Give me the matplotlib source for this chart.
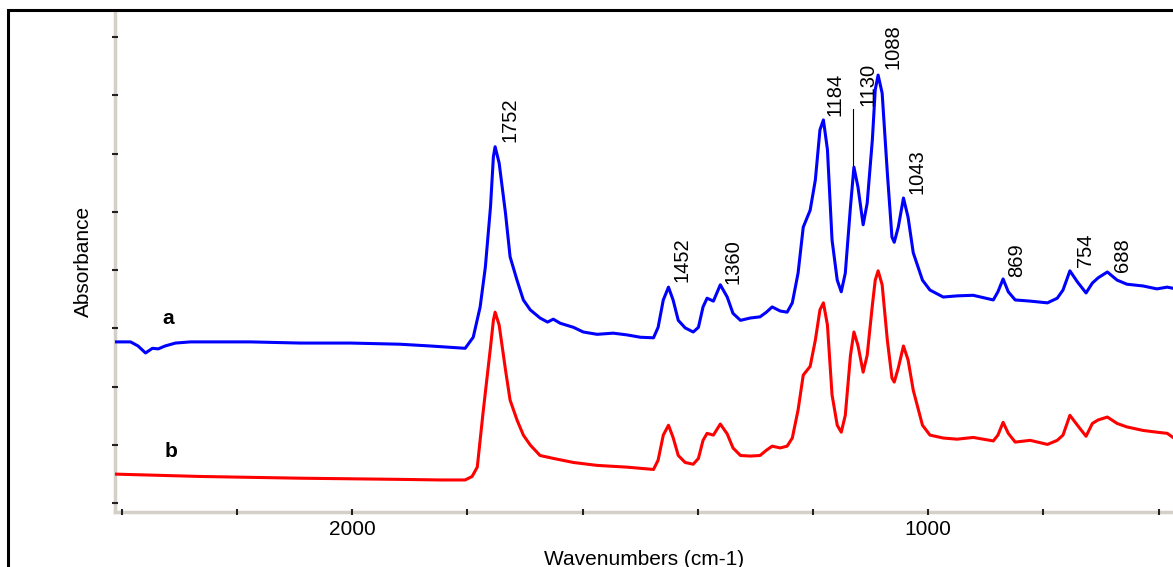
import matplotlib.pyplot as plt
from matplotlib.patches import Rectangle
from matplotlib.ticker import MultipleLocator, FixedLocator

plt.rcParams['font.family'] = ['Liberation Sans', 'DejaVu Sans']

# spectrum a (blue)
wn_a = [2411, 2385, 2372, 2359, 2347, 2337, 2325, 2307, 2281, 2177, 2090, 2003,
        1917, 1865, 1804, 1790, 1778, 1769, 1760, 1755, 1752, 1745, 1734, 1726,
        1714, 1703, 1691, 1674, 1661, 1651, 1639, 1616, 1599, 1575, 1547, 1523,
        1500, 1477, 1469, 1460, 1451, 1443, 1434, 1422, 1408, 1399, 1391, 1384,
        1373, 1361, 1349, 1339, 1326, 1309, 1292, 1281, 1271, 1257, 1245, 1236,
        1226, 1217, 1205, 1196, 1188, 1182, 1175, 1167, 1158, 1151, 1144, 1135,
        1129, 1122, 1113, 1106, 1097, 1092, 1087, 1080, 1071, 1063, 1059, 1052,
        1043, 1035, 1026, 1010, 997, 974, 950, 922, 887, 879, 870, 861, 849,
        823, 793, 776, 766, 754, 741, 726, 715, 705, 689, 672, 655, 627, 603,
        585, 575]
abs_a = [0.277, 0.277, 0.270, 0.258, 0.266, 0.265, 0.270, 0.275, 0.277, 0.277,
         0.275, 0.275, 0.273, 0.270, 0.266, 0.285, 0.337, 0.405, 0.509, 0.595,
         0.612, 0.584, 0.498, 0.423, 0.383, 0.349, 0.332, 0.318, 0.311, 0.316,
         0.309, 0.302, 0.294, 0.290, 0.292, 0.289, 0.285, 0.284, 0.302, 0.349,
         0.371, 0.349, 0.314, 0.301, 0.294, 0.302, 0.337, 0.352, 0.347, 0.375,
         0.354, 0.326, 0.314, 0.318, 0.320, 0.328, 0.337, 0.330, 0.328, 0.344,
         0.395, 0.474, 0.503, 0.555, 0.641, 0.658, 0.607, 0.452, 0.383, 0.363,
         0.395, 0.509, 0.577, 0.543, 0.478, 0.515, 0.624, 0.710, 0.735, 0.704,
         0.567, 0.457, 0.448, 0.474, 0.524, 0.491, 0.430, 0.383, 0.366, 0.354,
         0.356, 0.357, 0.349, 0.363, 0.385, 0.363, 0.349, 0.347, 0.344, 0.352,
         0.366, 0.399, 0.380, 0.361, 0.378, 0.387, 0.397, 0.383, 0.376, 0.373,
         0.368, 0.371, 0.369]

# spectrum b (red)
wn_b = [2411, 2264, 2090, 1917, 1847, 1804, 1792, 1783, 1773, 1760, 1755, 1752,
        1745, 1734, 1726, 1714, 1703, 1691, 1674, 1651, 1616, 1575, 1523, 1477,
        1469, 1460, 1451, 1443, 1434, 1422, 1408, 1399, 1391, 1384, 1373, 1361,
        1349, 1339, 1326, 1309, 1292, 1281, 1271, 1257, 1245, 1236, 1226, 1217,
        1205, 1196, 1188, 1182, 1175, 1167, 1158, 1151, 1144, 1135, 1129, 1122,
        1113, 1106, 1097, 1092, 1087, 1080, 1071, 1063, 1059, 1052, 1043, 1035,
        1026, 1010, 997, 974, 950, 922, 887, 879, 870, 861, 849, 823, 793, 776,
        766, 754, 741, 726, 715, 705, 689, 672, 655, 627, 603, 585, 575]
abs_b = [0.050, 0.046, 0.043, 0.041, 0.040, 0.040, 0.046, 0.062, 0.155, 0.268,
         0.314, 0.328, 0.306, 0.229, 0.177, 0.143, 0.117, 0.100, 0.082, 0.077,
         0.070, 0.065, 0.062, 0.058, 0.074, 0.117, 0.134, 0.113, 0.082, 0.070,
         0.067, 0.077, 0.108, 0.120, 0.117, 0.136, 0.119, 0.095, 0.082, 0.081,
         0.082, 0.091, 0.098, 0.095, 0.098, 0.112, 0.160, 0.220, 0.235, 0.280,
         0.332, 0.344, 0.306, 0.186, 0.134, 0.122, 0.151, 0.254, 0.294, 0.271,
         0.225, 0.254, 0.340, 0.383, 0.399, 0.375, 0.280, 0.215, 0.208, 0.232,
         0.270, 0.246, 0.194, 0.134, 0.117, 0.112, 0.110, 0.113, 0.107, 0.117,
         0.139, 0.120, 0.105, 0.108, 0.101, 0.108, 0.117, 0.151, 0.134, 0.115,
         0.137, 0.143, 0.148, 0.137, 0.131, 0.125, 0.122, 0.120, 0.113]

# peak labels: text, x, y of label bottom
peak_text = ['1752', '1452', '1360', '1184', '1130', '1088', '1043', '869', '754', '688']
peak_x = [1726, 1427, 1339, 1161, 1104, 1061, 1019, 847, 727, 662]
peak_y = [0.620, 0.380, 0.376, 0.665, 0.682, 0.746, 0.531, 0.388, 0.405, 0.397]

fig = plt.figure(figsize=(11.73, 5.67), dpi=100)
ax = fig.add_axes([115/1173, 1 - 512/567, 1 - 115/1173, (512 - 11)/567])

ax.plot(wn_a, abs_a, color='#0000ff', lw=2.2, solid_joinstyle='round')
ax.plot(wn_b, abs_b, color='#ff0000', lw=2.2, solid_joinstyle='round')

for t, x, y in zip(peak_text, peak_x, peak_y):
    ax.text(x, y, t, rotation=90, ha='center', va='bottom', fontsize=14.5)
# leader line for 1130
ax.plot([1130, 1130], [0.677, 0.580], color='black', lw=0.8)

ax.text(2319, 0.318, 'a', fontsize=15, fontweight='bold', ha='center', va='center')
ax.text(2314, 0.089, 'b', fontsize=15, fontweight='bold', ha='center', va='center')

ax.set_xlim(2412, 575)
ax.set_ylim(-0.015, 0.845)
ax.xaxis.set_major_locator(FixedLocator([2000, 1000]))
ax.xaxis.set_minor_locator(MultipleLocator(200))
ax.yaxis.set_major_locator(MultipleLocator(0.1))
ax.set_yticklabels([])
ax.tick_params(axis='both', which='both', direction='inout', length=5, width=1.5,
               color='#222222', labelsize=15)
ax.tick_params(axis='x', pad=3)

for s in ['top', 'right']:
    ax.spines[s].set_visible(False)
for s in ['left', 'bottom']:
    ax.spines[s].set_color('#d4d0c8')
    ax.spines[s].set_linewidth(2.5)
    ax.spines[s].set_zorder(0.5)

ax.set_xlabel('Wavenumbers (cm-1)', fontsize=15, labelpad=8)
ax.set_ylabel('Absorbance', fontsize=15, labelpad=10)

# outer frame
fig.patches.append(Rectangle((8/1173, -0.2), 1.2, 1 - 10/567 + 0.2,
                             transform=fig.transFigure, fill=False,
                             edgecolor='black', lw=2.2))

fig.savefig('out.png', dpi=100)
